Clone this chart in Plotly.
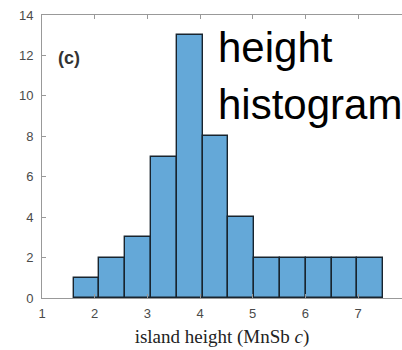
import plotly.graph_objects as go

# Data: histogram bins (left edges), bin width and counts
bin_left = [1.60, 2.09, 2.58, 3.07, 3.56, 4.05, 4.54, 5.03, 5.52, 6.01, 6.50, 6.99]
bin_width = 0.49
counts = [1, 2, 3, 7, 13, 8, 4, 2, 2, 2, 2, 2]
x_ticks = [1, 2, 3, 4, 5, 6, 7]
y_ticks = [0, 2, 4, 6, 8, 10, 12, 14]

centers = [b + bin_width / 2 for b in bin_left]

fig = go.Figure()
fig.add_trace(go.Bar(
    x=centers, y=counts, width=[bin_width] * len(counts),
    marker=dict(color="#64A8D8", line=dict(color="#18242e", width=1.4)),
    showlegend=False,
))

W, H = 402, 350
ml, mt, mb, mr = 42, 15, 52, 0
fig.update_layout(
    width=W, height=H,
    margin=dict(l=ml, r=mr, t=mt, b=mb, pad=0),
    paper_bgcolor="white", plot_bgcolor="white",
    bargap=0,
    font=dict(family="Liberation Sans, Arial, sans-serif", color="#4a4a4a", size=13),
    xaxis=dict(
        range=[1, 1 + (W - ml - mr) / 52.67],
        tickvals=x_ticks, ticktext=[str(v) for v in x_ticks],
        showline=True, linecolor="#999999", linewidth=1, mirror="ticks",
        ticks="inside", ticklen=4, tickcolor="#999999",
        showgrid=False, zeroline=False,
        tickfont=dict(size=13, color="#4a4a4a"),
        ticklabelstandoff=3,
        title=dict(text="island height (MnSb <i>c</i>)",
                   font=dict(family="Liberation Serif, Times New Roman, serif", size=19, color="#222222"),
                   standoff=10),
    ),
    yaxis=dict(
        range=[0, 14],
        tickvals=y_ticks,
        showline=True, linecolor="#999999", linewidth=1, mirror=False,
        ticks="inside", ticklen=4, tickcolor="#999999",
        showgrid=False, zeroline=False,
        tickfont=dict(size=13, color="#4a4a4a"),
        ticklabelstandoff=5,
    ),
)

fig.add_annotation(
    text="<b>(c)</b>", xref="paper", yref="paper",
    x=(56 - ml) / (W - ml - mr), y=1 - (58 - mt) / (H - mt - mb),
    xanchor="left", yanchor="middle", showarrow=False,
    font=dict(size=18, color="#333333", family="Liberation Sans, Arial, sans-serif"),
)
fig.add_annotation(
    text="height", xref="paper", yref="paper",
    x=(216 - ml) / (W - ml - mr), y=1 - (47 - mt) / (H - mt - mb),
    xanchor="left", yanchor="middle", showarrow=False,
    font=dict(size=42, color="#000000", family="Liberation Sans, Arial, sans-serif"),
)
fig.add_annotation(
    text="histogram", xref="paper", yref="paper",
    x=(216 - ml) / (W - ml - mr), y=1 - (104 - mt) / (H - mt - mb),
    xanchor="left", yanchor="middle", showarrow=False,
    font=dict(size=42, color="#000000", family="Liberation Sans, Arial, sans-serif"),
)

fig.write_html("out.html")
